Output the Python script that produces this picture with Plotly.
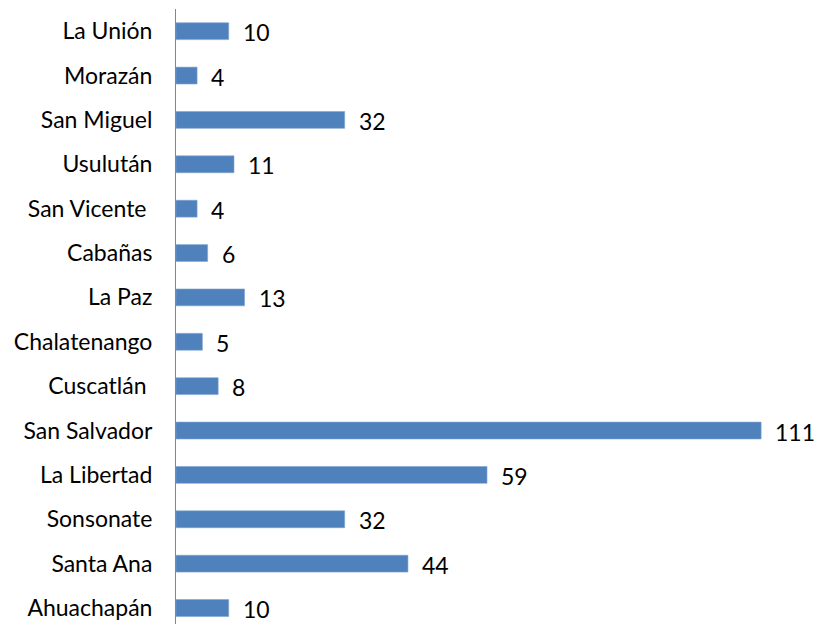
import plotly.graph_objects as go

# Categories listed bottom-to-top (Plotly draws first category at bottom)
departments = ["Ahuachapán", "Santa Ana", "Sonsonate", "La Libertad", "San Salvador",
               "Cuscatlán\u00a0", "Chalatenango", "La Paz", "Cabañas", "San Vicente\u00a0",
               "Usulután", "San Miguel", "Morazán", "La Unión"]
values = [10, 44, 32, 59, 111, 8, 5, 13, 6, 4, 11, 32, 4, 10]

FONT = "Lato, 'Open Sans', sans-serif"
BAR_COLOR = "#4F81BD"

fig = go.Figure()
fig.add_trace(go.Bar(
    x=values, y=departments, orientation="h",
    marker=dict(color=BAR_COLOR, line=dict(color="#7FA3D0", width=0.6)),
    width=0.38, hoverinfo="x+y",
))

for d, v in zip(departments, values):
    fig.add_annotation(x=v, y=d, text=str(v), showarrow=False,
                       xanchor="left", yanchor="middle", xshift=12, yshift=-1,
                       font=dict(family=FONT, size=23, color="#000000"))

fig.update_layout(
    width=817, height=624,
    margin=dict(l=176, r=0, t=9, b=0, autoexpand=False),
    paper_bgcolor="white", plot_bgcolor="white",
    showlegend=False,
    font=dict(family=FONT, size=23, color="#000000"),
    xaxis=dict(range=[0, 121.6], visible=False, showgrid=False, zeroline=False,
               automargin=False),
    yaxis=dict(type="category", categoryorder="array", categoryarray=departments,
               range=[-0.36, 13.5], showgrid=False, zeroline=False,
               showline=True, linecolor="#868686", linewidth=1,
               ticks="", ticklabelstandoff=18, automargin=False,
               tickfont=dict(family=FONT, size=23, color="#000000")),
)

fig.write_html("out.html", config={"displayModeBar": False},
               post_script="document.body.style.margin='0';document.body.style.overflow='hidden';")
